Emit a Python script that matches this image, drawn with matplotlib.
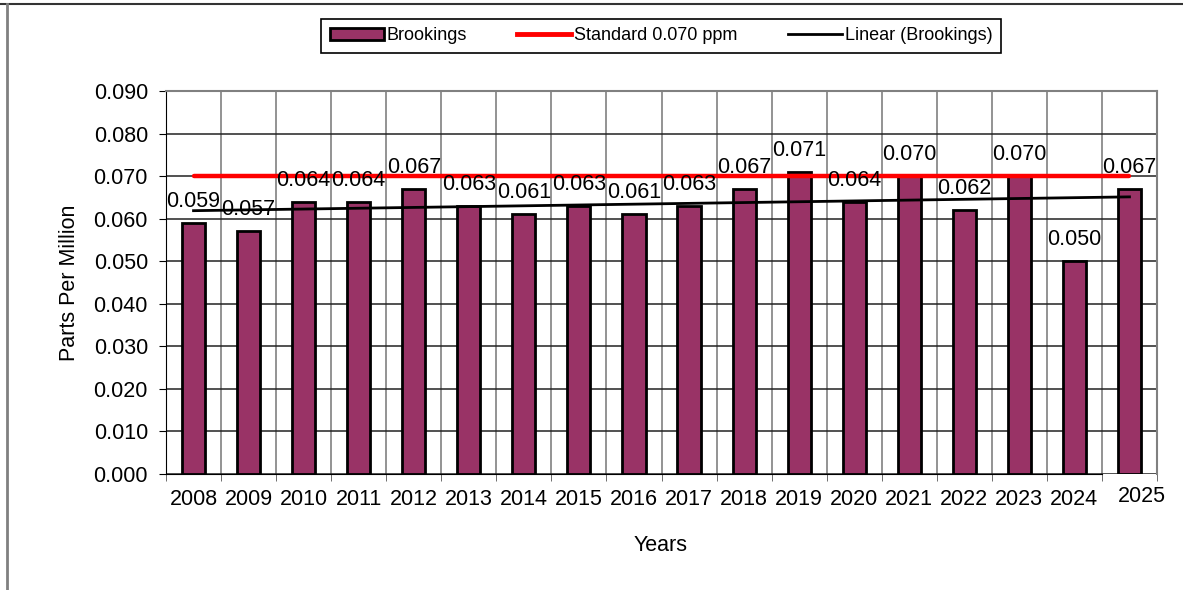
import numpy as np
import matplotlib
matplotlib.use('Agg')
import matplotlib.pyplot as plt
from matplotlib.lines import Line2D
from matplotlib.patches import Patch
from matplotlib import transforms

plt.rcParams['font.family'] = ['Liberation Sans', 'DejaVu Sans']

# Data
years = ['2008', '2009', '2010', '2011', '2012', '2013', '2014', '2015', '2016',
         '2017', '2018', '2019', '2020', '2021', '2022', '2023', '2024', '2025']
brookings = [0.059, 0.057, 0.064, 0.064, 0.067, 0.063, 0.061, 0.063, 0.061,
             0.063, 0.067, 0.071, 0.064, 0.070, 0.062, 0.070, 0.050, 0.067]
standard = 0.070
yticks = [0.000, 0.010, 0.020, 0.030, 0.040, 0.050, 0.060, 0.070, 0.080, 0.090]

bar_color = '#993366'
x = np.arange(len(years))

fig = plt.figure(figsize=(11.83, 5.90), dpi=100)
ax = fig.add_axes([166/1183, 1 - 474/590, 991/1183, 383/590])

# Bars
ax.bar(x, brookings, width=0.42, color=bar_color, edgecolor='black', linewidth=2, zorder=3)

# Standard line
ax.plot([x[0], x[-1]], [standard, standard], color='#ff0000', linewidth=3.2,
        solid_capstyle='round', zorder=4)

# Linear trend of the bars
coef = np.polyfit(x, brookings, 1)
ax.plot([x[0], x[-1]], np.polyval(coef, [x[0], x[-1]]), color='black', linewidth=2, zorder=4)

# Data labels
for xi, v in zip(x, brookings):
    ax.annotate(f'{v:.3f}', (xi, v), xytext=(0, 8), textcoords='offset points',
                ha='center', va='bottom', fontsize=15.5, zorder=5)

# Axes
ax.set_xlim(-0.5, len(years) - 0.5)
ax.set_ylim(0, 0.09)
ax.set_yticks(yticks)
ax.set_yticklabels([f'{t:.3f}' for t in yticks])
ax.set_xticks(x)
ax.set_xticklabels(years)
ax.set_xticks(np.arange(-0.5, len(years)), minor=True)
ax.tick_params(axis='x', which='major', length=0, pad=11, labelsize=15.5)
ax.tick_params(axis='x', which='minor', length=5, direction='out', color='#555555')
ax.tick_params(axis='y', which='major', length=5, direction='out', pad=8, labelsize=15.5)

ax.yaxis.grid(True, which='major', color='#222222', linewidth=1.1, zorder=0)
ax.xaxis.grid(True, which='minor', color='#808080', linewidth=1.2, zorder=0)
ax.set_axisbelow(True)

for side in ['top', 'right']:
    ax.spines[side].set_color('#808080')
    ax.spines[side].set_linewidth(1.5)
ax.spines['left'].set_color('black')
ax.spines['bottom'].set_color('black')
ax.spines['bottom'].set_bounds(-0.5, len(years) - 1.5)

# 2025 label sits slightly off in the original
lbl = ax.get_xticklabels()[-1]
lbl.set_transform(lbl.get_transform() + transforms.ScaledTranslation(0.12, 0.03, fig.dpi_scale_trans))

ax.set_ylabel('Parts Per Million', fontsize=15.5)
ax.yaxis.set_label_coords(-0.087, 0.5)
ax.set_xlabel('Years', fontsize=15.5)
ax.xaxis.set_label_coords(0.4995, -0.16)

# Legend
handles = [Patch(facecolor=bar_color, edgecolor='black', linewidth=2),
           Line2D([0], [0], color='#ff0000', linewidth=3.5),
           Line2D([0], [0], color='black', linewidth=2)]
leg = fig.legend(handles, ['Brookings', 'Standard 0.070 ppm', 'Linear (Brookings)'],
                 loc='center', bbox_to_anchor=(0.5588, 0.939), ncol=3, fontsize=13,
                 frameon=True, fancybox=False, edgecolor='black', framealpha=1,
                 handlelength=3.0, handleheight=0.6, handletextpad=0.15,
                 columnspacing=2.8, borderpad=0.45, borderaxespad=0)
leg.get_frame().set_linewidth(1.2)

# Outer frame of the original page
fig.add_artist(Line2D([0, 1], [1 - 4/590, 1 - 4/590], color='#333333', linewidth=1.5,
                      transform=fig.transFigure))
fig.add_artist(Line2D([7/1183, 7/1183], [0, 1 - 4/590], color='#808080', linewidth=2,
                      transform=fig.transFigure))

fig.savefig('out.png', dpi=100)
